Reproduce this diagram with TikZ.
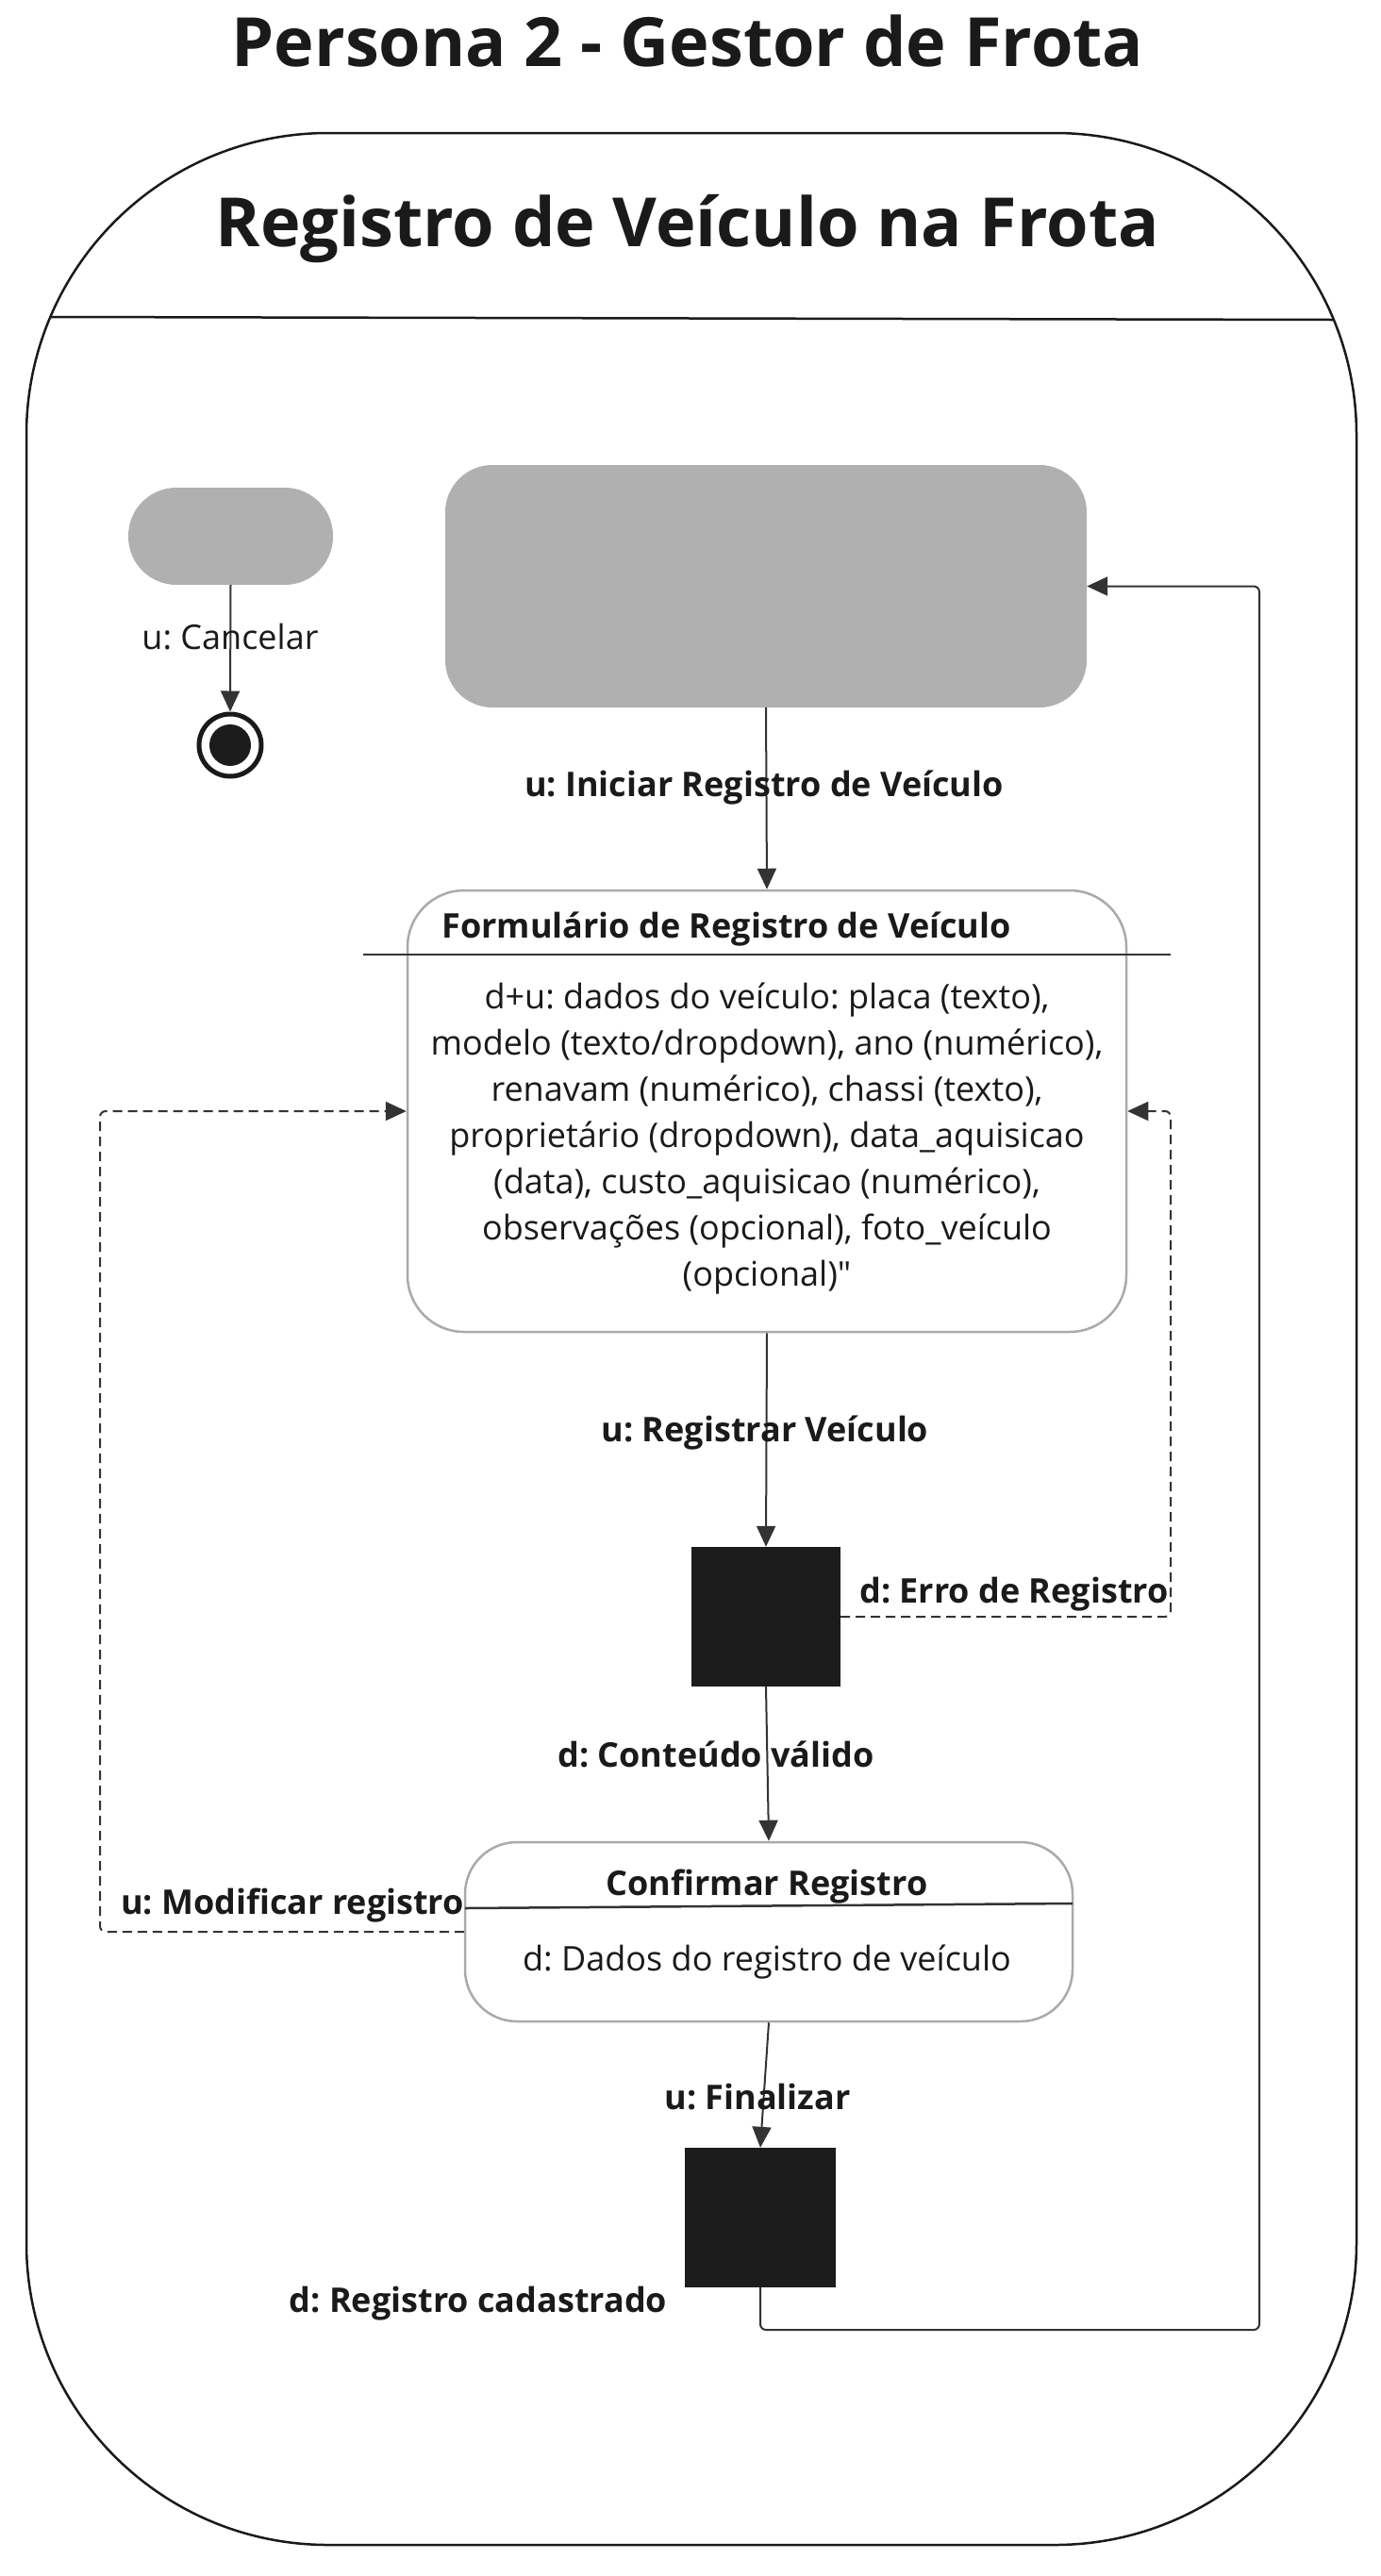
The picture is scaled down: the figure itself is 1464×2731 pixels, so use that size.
\documentclass[tikz,border=0pt]{standalone}
\usepackage{fontspec}
\setmainfont{Open Sans}
\usetikzlibrary{arrows.meta}
\definecolor{stategray}{HTML}{B0B0B0}
\definecolor{blk}{HTML}{1C1C1C}
\definecolor{bord}{HTML}{AAAAAA}
\definecolor{conn}{HTML}{333333}
\definecolor{txt}{HTML}{1A1A1A}
\newcommand{\straightquote}{\XeTeXglyph\XeTeXcharglyph"22\relax}
\frenchspacing
\tikzset{
  graystate/.style={fill=stategray,draw=none,inner sep=0pt},
  whitestate/.style={fill=white,draw=bord,line width=2.5pt,inner sep=0pt},
  blackbar/.style={fill=blk,draw=none,inner sep=0pt},
  lbl/.style={font=\fontsize{36}{44}\selectfont\bfseries,text=txt,inner sep=0pt},
  nlbl/.style={font=\fontsize{36}{44}\selectfont,text=txt,inner sep=0pt},
  conline/.style={draw=conn,line width=2pt,-{Triangle[length=22pt,width=20pt]},rounded corners=6pt},
  dashline/.style={conline,dash pattern=on 10pt off 6pt},
  sepline/.style={draw=conn,line width=2.5pt},
  bigtitle/.style={font=\fontsize{72}{80}\selectfont\bfseries,text=txt,inner sep=0pt},
}
\begin{document}
\frenchspacing
\begin{tikzpicture}[x=1pt,y=-1pt]
\useasboundingbox (0,0) rectangle (1464,2731);
% titles
\node[bigtitle] (title) at (729,43) {Persona 2 - Gestor de Frota};
% outer composite state
\draw[line width=2.5pt,draw=txt,rounded corners=320pt] (28,141) rectangle (1438,2698);
\node[bigtitle] (comptitle) at (729,243) {Registro de Veículo na Frota};
\draw[sepline,draw=txt] (54,336) -- (1413,339);
% states
\node[graystate,rounded corners=51pt,minimum width=217pt,minimum height=103pt] (cancelst) at (244.5,568.5) {};
\node[draw=txt,line width=5pt,circle,minimum size=66pt,inner sep=0pt] (final) at (244,790) {};
\fill[blk] (final.center) circle (22pt);
\node[graystate,rounded corners=50pt,minimum width=680pt,minimum height=257pt] (bigst) at (812,621.5) {};
\node[whitestate,rounded corners=60pt,minimum width=762pt,minimum height=468pt] (form) at (813,1178) {};
\node[lbl] (formtitle) at (770,985) {Formulário de Registro de Veículo};
\draw[sepline] (385,1012) -- (1241,1012);
\node[nlbl,font=\fontsize{36}{49}\selectfont,align=center] (formbody) at (813,1207) {d+u: dados do veículo: placa (texto),\\modelo (texto/dropdown), ano (numérico),\\renavam (numérico), chassi (texto),\\proprietário (dropdown), data\_aquisicao\\(data), custo\_aquisicao (numérico),\\observações (opcional), foto\_veículo\\(opcional)\straightquote};
\node[blackbar,minimum width=158pt,minimum height=148pt] (choice1) at (812,1714) {};
\node[whitestate,rounded corners=55pt,minimum width=644pt,minimum height=190pt] (confirm) at (815,2048) {};
\node[lbl] (conftitle) at (813,2000) {Confirmar Registro};
\draw[sepline] (493,2023) -- (1137,2018);
\node[nlbl] (confbody) at (813,2080) {d: Dados do registro de veículo};
\node[blackbar,minimum width=160pt,minimum height=148pt] (choice2) at (806,2351) {};
% coordinates for loops
\coordinate (errc1) at (1241,1714);
\coordinate (errc2) at (1241,1178);
\coordinate (modc1) at (106,2048);
\coordinate (modc2) at (106,1178);
\coordinate (retc1) at (806,2470);
\coordinate (retc2) at (1335,2470);
\coordinate (retc3) at (1335,621.5);
% connectors
\draw[conline] (cancelst.south) -- (final.north);
\draw[conline] (bigst.south) -- (form.north);
\draw[conline] (form.south) -- (choice1.north);
\draw[conline] (choice1.south) -- (confirm.north);
\draw[conline] (confirm.south) -- (choice2.north);
\draw[dashline] (choice1.east) -- (errc1) -- (errc2) -- (form.east);
\draw[dashline] (confirm.west) -- (modc1) -- (modc2) -- (form.west);
\draw[conline] (choice2.south) -- (retc1) -- (retc2) -- (retc3) -- (bigst.east);
% labels
\node[nlbl] (lcancel) at (244,675) {u: Cancelar};
\node[lbl] (liniciar) at (810,835) {u: Iniciar Registro de Veículo};
\node[lbl] (lregistrar) at (811,1519) {u: Registrar Veículo};
\node[lbl] (lerro) at (1075,1690) {d: Erro de Registro};
\node[lbl] (lvalido) at (759,1860) {d: Conteúdo válido};
\node[lbl] (lmodificar) at (310,2020) {u: Modificar registro};
\node[lbl] (lfinalizar) at (803,2223) {u: Finalizar};
\node[lbl] (lcadastrado) at (507,2442) {d: Registro cadastrado};
\end{tikzpicture}
\end{document}
